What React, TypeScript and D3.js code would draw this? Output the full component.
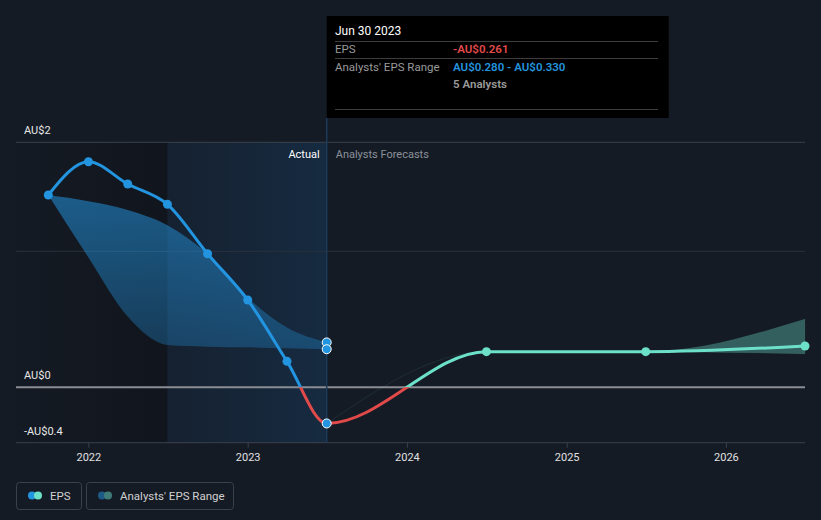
import React from "react";
import * as d3 from "d3";

const actualDates = ["2021-09-30", "2021-12-31", "2022-03-31", "2022-06-30", "2022-09-30", "2022-12-31", "2023-03-31", "2023-06-30"];
const epsActual = [1.517, 1.822, 1.617, 1.431, 0.982, 0.642, 0.191, -0.261];
const rangeHighPast = [1.517, 1.46, 1.38, 1.24, 0.98, 0.66, 0.44, 0.33];
const rangeLowPast = [1.517, 0.955, 0.52, 0.311, 0.299, 0.294, 0.287, 0.28];

const forecastDates = ["2023-06-30", "2024-06-30", "2025-06-30", "2026-06-30"];
const epsForecast = [-0.261, 0.262, 0.262, 0.304];
const rangeHighFc = [-0.261, 0.262, 0.262, 0.502];
const rangeLowFc = [-0.261, 0.262, 0.262, 0.245];

const yTicks = [2, 1, 0, -0.4];
const yLabels = ["AU$2", "", "AU$0", "-AU$0.4"];
const xTickYears = [2022, 2023, 2024, 2025, 2026];

const W = 821;
const H = 520;
const BG = "#151b25";
const BLUE = "#2394df";
const RED = "#e24a4a";
const TEAL = "#6ce0c8";
const FONT = "Roboto, 'Open Sans', sans-serif";

const parse = d3.utcParse("%Y-%m-%d");

export default function App() {
  const x = d3.scaleUtc().domain([parse("2021-07-18")!, parse("2026-06-30")!]).range([16, 805]);
  const y = d3.scaleLinear().domain([-0.4, 0, 1, 2]).range([442.7, 387.3, 251.3, 142.3]);

  const actual = actualDates.map((d, i) => ({ d: parse(d)!, v: epsActual[i], hi: rangeHighPast[i], lo: rangeLowPast[i] }));
  const fc = forecastDates.map((d, i) => ({ d: parse(d)!, v: epsForecast[i], hi: rangeHighFc[i], lo: rangeLowFc[i] }));
  const allEps = [...actual, ...fc.slice(1)];

  const line = d3.line<any>().x((p) => x(p.d)).y((p) => y(p.v)).curve(d3.curveMonotoneX);
  const area = d3.area<any>().x((p) => x(p.d)).y0((p) => y(p.lo)).y1((p) => y(p.hi)).curve(d3.curveMonotoneX);

  const lastActual = actual[actual.length - 1];
  const xSplit = x(lastActual.d);
  const xYearBefore = x(parse("2022-06-30")!);
  const y0 = y(0);
  const top = y(2);
  const bottom = y(-0.4);
  const left = 16;
  const right = 805;

  return (
    <svg width={W} height={H} style={{ position: "fixed", left: 0, top: 0, background: BG, fontFamily: FONT }}>
      <defs>
        <linearGradient id="pastBand" x1="0" y1="0" x2="0" y2="1">
          <stop offset="0%" stopColor={BLUE} stopOpacity={0.55} />
          <stop offset="100%" stopColor={BLUE} stopOpacity={0.3} />
        </linearGradient>
        <linearGradient id="hlGrad" x1="0" y1="0" x2="1" y2="0">
          <stop offset="0%" stopColor="#1a5a99" stopOpacity={0.1} />
          <stop offset="100%" stopColor="#1a6ab0" stopOpacity={0.2} />
        </linearGradient>
        <linearGradient id="darkGrad" x1="0" y1="0" x2="1" y2="0">
          <stop offset="0%" stopColor="#0c0f14" stopOpacity={0.1} />
          <stop offset="100%" stopColor="#0c0f14" stopOpacity={0.45} />
        </linearGradient>
        <clipPath id="cActAbove"><rect x={0} y={0} width={xSplit} height={y0} /></clipPath>
        <clipPath id="cActBelow"><rect x={0} y={y0} width={xSplit} height={H} /></clipPath>
        <clipPath id="cFcAbove"><rect x={xSplit} y={0} width={W} height={y0} /></clipPath>
        <clipPath id="cFcBelow"><rect x={xSplit} y={y0} width={W} height={H} /></clipPath>
      </defs>

      {/* shaded regions */}
      <rect x={left} y={top} width={xYearBefore - left} height={bottom - top} fill="url(#darkGrad)" />
      <rect x={xYearBefore} y={top} width={xSplit - xYearBefore} height={bottom - top} fill="url(#hlGrad)" />

      {/* gridlines */}
      {yTicks.map((t, i) => (
        <line key={i} x1={left} x2={right} y1={y(t)} y2={y(t)}
          stroke={t === 0 ? "#8a8d93" : i === 1 ? "#2a313c" : "#3a414c"} strokeWidth={t === 0 ? 2 : 1} />
      ))}
      {yTicks.map((t, i) => yLabels[i] ? (
        <text key={"l" + i} x={24} y={y(t) - 8} fill="#e8e8e8" fontSize={11}>{yLabels[i]}</text>
      ) : null)}

      {/* crosshair */}
      <line x1={xSplit} x2={xSplit} y1={118} y2={bottom} stroke="#1c3a5a" strokeWidth={1.5} />

      {/* Actual / Forecast labels */}
      <text x={xSplit - 7} y={158} textAnchor="end" fill="#ffffff" fontSize={11}>Actual</text>
      <text x={xSplit + 9} y={158} fill="#8b9199" fontSize={11}>Analysts Forecasts</text>

      {/* bands */}
      <path d={area(actual)!} fill="url(#pastBand)" />
      <path d={area(fc)!} fill={TEAL} fillOpacity={0.35} stroke={TEAL} strokeOpacity={0.05} strokeWidth={1} />

      {/* EPS line */}
      <path d={line(allEps)!} fill="none" stroke={BLUE} strokeWidth={3} clipPath="url(#cActAbove)" />
      <path d={line(allEps)!} fill="none" stroke={RED} strokeWidth={3} clipPath="url(#cActBelow)" />
      <path d={line(allEps)!} fill="none" stroke={TEAL} strokeWidth={3} clipPath="url(#cFcAbove)" />
      <path d={line(allEps)!} fill="none" stroke={RED} strokeWidth={3} clipPath="url(#cFcBelow)" />

      {/* points */}
      {actual.slice(0, -1).map((p, i) => (
        <circle key={"a" + i} cx={x(p.d)} cy={y(p.v)} r={4.5} fill={BLUE} />
      ))}
      {fc.slice(1).map((p, i) => (
        <circle key={"f" + i} cx={x(p.d)} cy={y(p.v)} r={4.5} fill={TEAL} />
      ))}
      <circle cx={xSplit} cy={y(lastActual.hi)} r={4.5} fill={BLUE} stroke="#ffffff" strokeWidth={1} />
      <circle cx={xSplit} cy={y(lastActual.lo)} r={4.5} fill={BLUE} stroke="#ffffff" strokeWidth={1} />
      <circle cx={xSplit} cy={y(lastActual.v)} r={4.5} fill={BLUE} stroke="#ffffff" strokeWidth={1} />

      {/* x axis */}
      {xTickYears.map((yr) => {
        const xx = x(parse(`${yr}-01-01`)!);
        return (
          <g key={yr}>
            <line x1={xx} x2={xx} y1={bottom} y2={bottom + 5} stroke="#3a414c" />
            <text x={xx} y={461} textAnchor="middle" fill="#e0e0e0" fontSize={11}>{yr}</text>
          </g>
        );
      })}

      {/* tooltip */}
      <g>
        <rect x={xSplit} y={16} width={342} height={102} fill="#000000" />
        <text x={335} y={35} fill="#ffffff" fontSize={12}>Jun 30 2023</text>
        <line x1={335} x2={658} y1={41.5} y2={41.5} stroke="#3d3d3d" />
        <text x={335} y={53} fill="#9a9a9a" fontSize={11.5}>EPS</text>
        <text x={453} y={53} fill={RED} fontSize={11.5} fontWeight={600}>-AU$0.261</text>
        <line x1={335} x2={658} y1={58.5} y2={58.5} stroke="#3d3d3d" />
        <text x={335} y={71} fill="#9a9a9a" fontSize={11.5}>Analysts' EPS Range</text>
        <text x={453} y={71} fill={BLUE} fontSize={11.5} fontWeight={600}>AU$0.280 - AU$0.330</text>
        <text x={453} y={88} fill="#9a9a9a" fontSize={11.5} fontWeight={600}>5 Analysts</text>
        <line x1={335} x2={658} y1={109.5} y2={109.5} stroke="#3d3d3d" />
      </g>

      {/* legend */}
      <g>
        <rect x={16.5} y={482.5} width={65} height={27} rx={3} fill="none" stroke="#3a414c" />
        <circle cx={32} cy={495.5} r={4} fill={BLUE} />
        <circle cx={38} cy={495.5} r={4} fill={TEAL} />
        <text x={50} y={499.5} fill="#d0d0d0" fontSize={11.5}>EPS</text>
        <rect x={86.5} y={482.5} width={147} height={27} rx={3} fill="none" stroke="#3a414c" />
        <circle cx={102} cy={495.5} r={4} fill="#1d5a86" />
        <circle cx={108} cy={495.5} r={4} fill="#3f7c78" />
        <text x={120} y={499.5} fill="#d0d0d0" fontSize={11.5}>Analysts' EPS Range</text>
      </g>
    </svg>
  );
}
